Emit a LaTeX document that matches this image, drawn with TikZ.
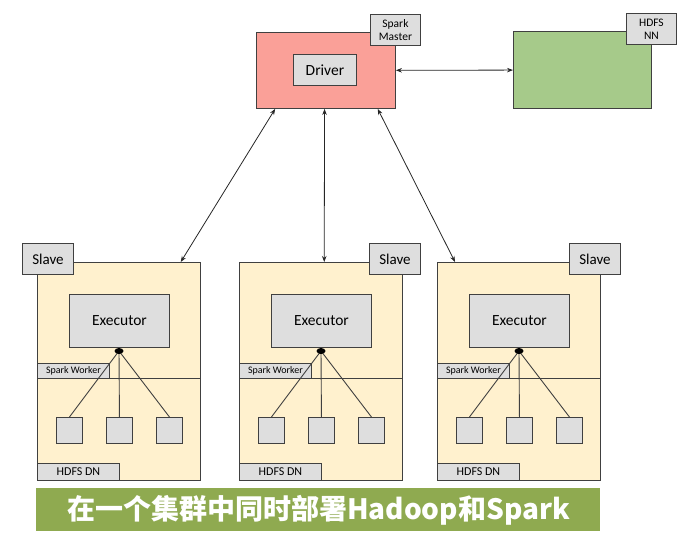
\documentclass[tikz,border=0pt]{standalone}
\usepackage{fontspec}
\setmainfont{Carlito}
\newfontfamily\cjk{Noto Sans CJK SC}
\usetikzlibrary{shapes.geometric, arrows.meta, positioning, calc}
\definecolor{edge}{RGB}{64,64,64}
\definecolor{masterred}{RGB}{250,160,152}
\definecolor{nngreen}{RGB}{166,202,138}
\definecolor{slavebg}{RGB}{255,241,206}
\definecolor{taggray}{RGB}{222,222,222}
\definecolor{bannergreen}{RGB}{143,170,80}

\begin{document}
\begin{tikzpicture}[x=1pt, y=-1pt, >={Stealth[length=6pt,width=4.5pt]}, line width=0.9pt,
    box/.style={draw=edge, inner sep=0pt, anchor=north west},
    tag/.style={box, fill=taggray, align=center},
    link/.style={<->, draw=black!85, line width=0.8pt},
    blob/.style={ellipse, fill=black, minimum width=9pt, minimum height=6pt, inner sep=0pt}]
    \useasboundingbox (0,0) rectangle (686,540);
    \node[box, fill=masterred, minimum width=139, minimum height=76] (m) at (256,32) {};
    \node[tag, minimum width=63, minimum height=31, font=\fontsize{15.5}{18}\selectfont] (drv) at (293,54) {Driver};
    \node[tag, minimum width=50, minimum height=31, font=\fontsize{11.5}{13}\selectfont] (smt) at (370,14) {Spark\\Master};
    \node[box, fill=nngreen, minimum width=138, minimum height=77] (nn) at (513,31) {};
    \node[tag, minimum width=50, minimum height=31, font=\fontsize{11.5}{13}\selectfont] (nnt) at (626,13) {HDFS\\NN};
    \draw[link] (m) -- (nn);

    \foreach \i/\x/\t in {1/37/-15, 2/239/130, 3/437/132} {
        \node[box, fill=slavebg, minimum width=163, minimum height=218] (s\i) at (\x,262) {};
        \draw[draw=edge] ($(s\i.north west)+(0,116)$) -- ($(s\i.north east)+(0,116)$);
        \node[tag, minimum width=51, minimum height=31, font=\fontsize{15}{18}\selectfont] (sl\i) at (\x+\t,243) {Slave};
        \node[tag, minimum width=100, minimum height=53, font=\fontsize{15.5}{18}\selectfont] (ex\i) at (\x+32,294) {Executor};
        \node[tag, minimum width=72, minimum height=15, font=\fontsize{10}{11}\selectfont] (sw\i) at (\x,363) {Spark Worker};
        \node[tag, minimum width=82, minimum height=17, font=\fontsize{12}{13}\selectfont] (dn\i) at (\x,463) {HDFS DN};
        \coordinate (d\i) at (\x+82,351);
        \foreach \j/\o in {a/19, b/69, c/119} {
            \node[box, fill=taggray, minimum size=26] (q\i\j) at (\x+\o,417) {};
            \draw[draw=edge] (d\i) -- (q\i\j.north);
        }
        \node[blob] (dot\i) at (d\i) {};
    }

    \draw[link] ($(m.south west)!0.137!(m.south east)$) -- ($(s1.north west)!0.877!(s1.north east)$);
    \draw[link] ($(m.south west)!0.49!(m.south east)$) -- ($(s2.north west)!0.52!(s2.north east)$);
    \draw[link] ($(m.south west)!0.87!(m.south east)$) -- ($(s3.north west)!0.11!(s3.north east)$);

    \node[anchor=north west, fill=bannergreen, minimum width=564, minimum height=43, inner sep=0pt, text=white,
        font=\cjk\bfseries\fontsize{28}{30}\selectfont] (ban) at (36,488) {在一个集群中同时部署Hadoop和Spark};
\end{tikzpicture}
\end{document}
